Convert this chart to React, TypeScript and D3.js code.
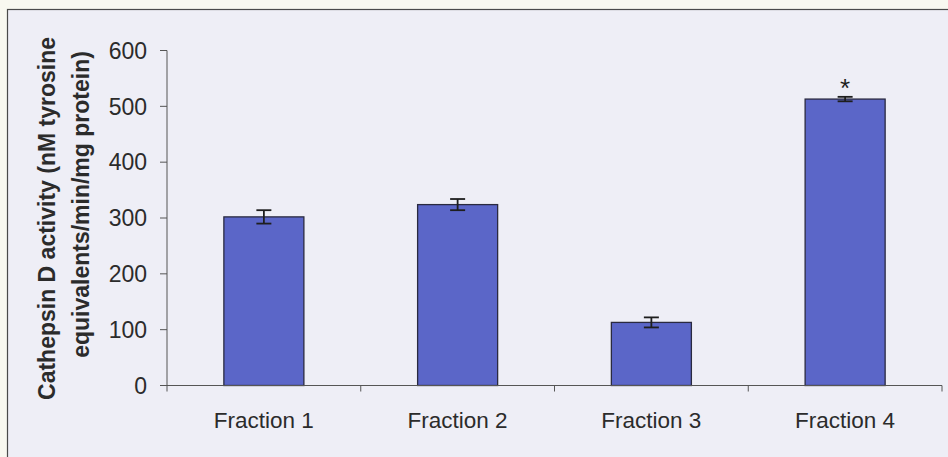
import React from "react";
import * as d3 from "d3";

// Cathepsin D activity per subcellular fraction
const categories = ["Fraction 1", "Fraction 2", "Fraction 3", "Fraction 4"];
const activity = [302, 324, 113, 513];
const errors = [12, 10, 9, 4];
const significant = [false, false, false, true];
const yTicks = [0, 100, 200, 300, 400, 500, 600];
const yLabelLines = ["Cathepsin D activity (nM tyrosine", "equivalents/min/mg protein)"];

const W = 948;
const H = 457;
const FONT = "'Liberation Sans', Arial, Helvetica, sans-serif";
const INK = "#2b2b2b";

export default function App() {
  const y = d3.scaleLinear().domain([0, 600]).range([385.5, 50.5]);
  const x = d3
    .scaleBand<string>()
    .domain(categories)
    .range([167, 942])
    .paddingInner(0.587)
    .paddingOuter(0.2935);

  const step = x.step();
  const [x0] = x.range();
  const boundaries = d3.range(categories.length + 1).map((i) => x0 + i * step);
  const capHalf = 7.5;

  return (
    <div style={{ position: "fixed", left: 0, top: 0 }}>
      <svg width={W} height={H} style={{ display: "block" }}>
        <rect x={0} y={0} width={W} height={H} fill="#f8f8f0" />
        <rect x={7.5} y={9.5} width={W + 10} height={H + 10} fill="#eeeef6" stroke="#4a4a4a" strokeWidth={1.2} />

        {/* bars */}
        {categories.map((c, i) => (
          <rect
            key={c}
            x={x(c)}
            y={y(activity[i])}
            width={x.bandwidth()}
            height={y(0) - y(activity[i])}
            fill="#5b66c8"
            stroke="#2a2a40"
            strokeWidth={1.3}
          />
        ))}

        {/* error bars */}
        {categories.map((c, i) => {
          const cx = (x(c) as number) + x.bandwidth() / 2;
          const top = y(activity[i] + errors[i]);
          const bot = y(activity[i] - errors[i]);
          return (
            <g key={c + "-err"} stroke="#1e1e1e" strokeWidth={1.8}>
              <line x1={cx} x2={cx} y1={top} y2={bot} />
              <line x1={cx - capHalf} x2={cx + capHalf} y1={top} y2={top} />
              <line x1={cx - capHalf} x2={cx + capHalf} y1={bot} y2={bot} />
            </g>
          );
        })}

        {/* significance marker */}
        {categories.map((c, i) =>
          significant[i] ? (
            <text
              key={c + "-sig"}
              x={(x(c) as number) + x.bandwidth() / 2}
              y={y(activity[i] + errors[i])}
              dy={0}
              textAnchor="middle"
              fontFamily={FONT}
              fontSize={26}
              fill="#1e1e1e"
            >
              *
            </text>
          ) : null
        )}

        {/* y axis */}
        <line x1={167} x2={167} y1={y(600)} y2={y(0)} stroke="#555" strokeWidth={1} />
        {yTicks.map((t) => (
          <g key={t}>
            <line x1={160} x2={167} y1={y(t)} y2={y(t)} stroke="#555" strokeWidth={1} />
            <text
              x={147}
              y={y(t)}
              dy="0.36em"
              textAnchor="end"
              fontFamily={FONT}
              fontSize={23}
              fill={INK}
            >
              {t}
            </text>
          </g>
        ))}

        {/* x axis */}
        <line x1={x0} x2={x.range()[1]} y1={y(0)} y2={y(0)} stroke="#555" strokeWidth={1} />
        {boundaries.map((b, i) => (
          <line key={i} x1={b} x2={b} y1={y(0)} y2={y(0) + 6} stroke="#555" strokeWidth={1} />
        ))}
        {categories.map((c) => (
          <text
            key={c + "-lab"}
            x={(x(c) as number) + x.bandwidth() / 2}
            y={428}
            textAnchor="middle"
            fontFamily={FONT}
            fontSize={22.5}
            fill={INK}
          >
            {c}
          </text>
        ))}

        {/* y axis title */}
        {yLabelLines.map((line, i) => {
          const bx = i === 0 ? 54.5 : 88.5;
          const cy = i === 0 ? 218.5 : 204.5;
          return (
            <text
              key={line}
              transform={`translate(${bx},${cy}) rotate(-90)`}
              textAnchor="middle"
              fontFamily={FONT}
              fontWeight="bold"
              fontSize={23}
              fill={INK}
            >
              {line}
            </text>
          );
        })}
      </svg>
    </div>
  );
}
